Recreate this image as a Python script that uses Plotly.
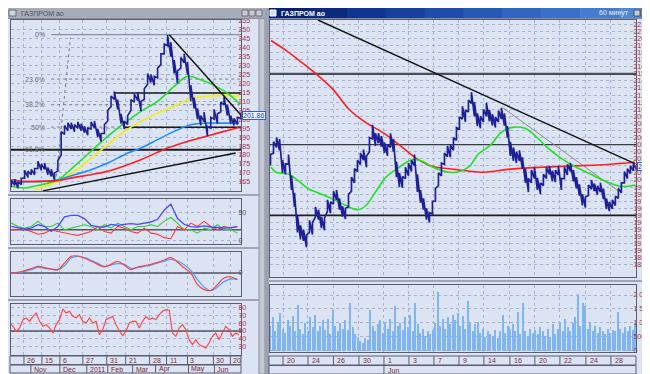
import plotly.graph_objects as go

W, H = 650, 374

# ================= LEFT WINDOW (daily bars, sample index k) =================
L_HIGH = [166, 166.5, 165, 167, 171.5, 171, 172, 172.5, 176.5, 175,
          175.5, 173, 172, 170, 177, 193, 196.5, 198, 198, 197,
          198.5, 197.5, 196, 195, 198.5, 199, 194.5, 192, 197, 205,
          213, 215.5, 211, 203, 199, 202, 211, 214, 215, 210,
          217, 225.5, 225, 224, 228.5, 236.5, 242, 247, 243, 233,
          227, 234.5, 236.5, 232, 219, 212, 206, 202, 204, 196,
          201, 205.5, 203, 209.5, 212.5, 208, 202, 200.5, 201, 203]
L_LOW = [162, 163, 161.5, 163.5, 167, 167.5, 169, 169, 172.5, 171.5,
         172, 169, 168, 166, 171, 180, 191.5, 193.5, 194.5, 193,
         195, 193.5, 192.5, 191, 194.5, 195, 190, 187.5, 192, 199,
         207, 211, 205.5, 197.5, 194.5, 197, 205, 209.5, 210.5, 204.5,
         211, 219.5, 220.5, 219, 223, 230.5, 236.5, 241, 235, 225.5,
         220, 228.5, 231.5, 225, 210, 206, 200, 196.5, 198.5, 190.5,
         195, 200, 197.5, 204, 208, 202, 197.5, 196.5, 197, 200.5]
L_LAST = "201.86"

L_GREEN_K = [0, 4, 9, 14, 19, 24, 29, 34, 39, 44, 49, 53, 57, 61, 65, 68.5]
L_GREEN = [162.5, 161.6, 163.4, 166.2, 173.8, 182.2, 190.4, 197.8, 204.4, 210,
           218.3, 223.9, 222, 218.9, 214.6, 209]
L_YELLOW_K = [7, 14, 19, 24, 29, 34, 39, 44, 49, 52, 55, 59, 64, 69]
L_YELLOW = [160.6, 165.3, 170.8, 178.3, 185.7, 193.2, 198.8, 203.4, 207.2, 210,
            211.8, 212.8, 213.3, 212.8]
L_BLUE_K = [0, 4, 9, 14, 19, 24, 29, 34, 39, 44, 49, 54, 59, 64, 68.5]
L_BLUE = [164.4, 165, 165.3, 166.2, 169, 171.8, 175.5, 180.2, 183.9, 188.6,
          193.2, 196.9, 197.8, 197.8, 197.8]
L_RED_K = [0, 4, 9, 14, 19, 24, 29, 39, 47, 53, 59, 64, 68.5]
L_RED = [166.2, 165.3, 165.3, 165.7, 167.5, 169, 170.9, 177.4, 183.9, 187.6,
         190.6, 193.2, 195.4]

L_DOWN_K = [47.5, 69]
L_DOWN = [247.2, 202.5]
L_SUPPORT_K = [9.5, 67.5]
L_SUPPORT = [160.0, 181.1]
L_BOX_TOP_K = [31, 69]
L_BOX_TOP = 214.6
L_BOX_BOT_K = [34, 69]
L_BOX_BOT = 195.5
L_LEVEL = 183.0

FIB_LEVELS = [247.2, 222.4, 208.1, 195.6, 183.0]
FIB_LABELS = ["0%", "23.6%", "38.2%", "50%", "61.8%"]
FIB_START_K = 12
FIB_BASE_K = [13.5, 17.8]
FIB_BASE = [168, 245.5]

# indicator panels, sampled every 2 k
L_ADX = [26, 23, 21, 23, 29, 26, 17, 26, 43, 45.8, 45.8, 39.9, 28, 25.6, 25, 29.8, 28, 29.8,
         31, 29.8, 31.5, 33.9, 38.7, 55, 66, 40, 29.8, 25.6, 25, 26.8, 25, 23.8, 23.2, 23.8, 25.6]
L_PDI = [32, 26, 23, 26, 35, 26, 26, 32, 20, 23, 26, 29, 26, 20, 29, 23, 32, 26,
         20, 26, 26, 29, 26, 35, 42, 32, 20, 20, 14, 23, 20, 29, 20, 21, 14]
L_MDI = [20, 20, 20, 17, 12, 14, 20, 17, 14, 12, 10, 13, 17, 26, 17, 14, 26, 23,
         17, 14, 23, 14, 12, 6, 4, 26, 20, 32, 26, 35, 26, 20, 26, 23, 26]
L_MACD = [0, 0.2, 0.7, 1.3, 2, 1.6, 1.2, 1, 3, 5, 5.1, 4.5, 3.5, 2.6, 1.8, 2.6, 3.5, 2.3,
          1, 1.8, 2.2, 2.6, 3.2, 3.9, 4.6, 3.3, 1.5, 0, -3.5, -5, -5.2, -3.5, -1.5, -1.2, -2]
L_SIGNAL = [0, 0.1, 0.5, 1, 1.7, 1.4, 1.1, 1, 2.2, 4.5, 5, 4.6, 3.8, 2.9, 2, 2.4, 2.8, 2.6,
            1.4, 1.6, 2, 2.4, 3, 3.5, 4.1, 3.6, 2.5, 0.8, -2, -4.2, -5.3, -4.2, -2.6, -1.8, -1.8]
L_RSI = [60.4, 56.1, 49.6, 53.9, 64.8, 67, 62.6, 69.1, 73.5, 62.6,
         56.1, 58.3, 53.9, 47.4, 58.3, 64.8, 78.7, 73.5, 75.7, 69.1,
         67, 71.3, 62.6, 60.4, 67, 60.4, 62.6, 45.2, 51.7, 64.8,
         67, 69.1, 58.3, 49.6, 43.9, 49.6, 60.4, 62.6, 62.6, 53.9,
         62.6, 69.1, 64.8, 67, 64.8, 71.3, 75.7, 77.8, 77, 47.4,
         43, 53.9, 58.3, 51.7, 38.7, 32.2, 38.7, 32.2, 30, 27.8,
         34.3, 43, 47.4, 38.7, 47.4, 56.1, 51.7, 43, 47.4, 45.2]

L_DAY_SEP = [3.8, 9.2, 14.6, 21.5, 28.7, 34.4, 41.6, 46.7, 53, 60.8, 65.9]
L_DAY_LBL = ["26", "15", "6", "27", "31", "21", "28", "11", "3", "30", "20"]
L_MON_SEP = [5.9, 14.6, 22.7, 29, 36.5, 43.4, 53.3, 61.1]
L_MON_LBL = ["Nov", "Dec", "2011", "Feb", "Mar", "Apr", "May", "Jun"]

# ================= RIGHT WINDOW (hourly, x in trading days) =================
R_STEP = 0.24
R_HIGH = [203.6, 205.4, 206.0, 205.8, 202.8, 202.3, 203.6, 200.6, 198.2, 195.0,
          193.6, 193.0, 192.2, 194.3, 194.0, 196.2, 195.8, 194.8, 194.6, 197.2,
          196.9, 198.4, 198.6, 197.4, 196.3, 196.0, 198.0, 200.4, 201.6, 202.8,
          203.8, 204.3, 203.4, 206.0, 207.8, 206.6, 206.6, 206.2, 205.3, 205.0,
          206.6, 205.8, 202.6, 201.0, 200.5, 201.8, 202.4, 202.8, 203.6, 200.8,
          198.6, 197.4, 196.0, 195.4, 197.0, 198.8, 201.0, 202.4, 203.8, 204.8,
          204.9, 206.0, 207.4, 208.9, 210.4, 209.9, 211.3, 212.4, 211.0, 209.4,
          209.0, 210.0, 210.9, 209.9, 209.3, 208.9, 209.8, 210.2, 209.4, 207.6,
          205.4, 204.6, 204.0, 204.2, 203.2, 201.6, 200.2, 201.4, 201.8, 200.3,
          199.6, 200.8, 201.8, 202.0, 201.3, 201.4, 202.0, 200.2, 201.8, 202.2,
          202.4, 201.4, 200.4, 199.4, 198.0, 197.6, 199.3, 200.0, 199.5, 199.2,
          199.6, 198.8, 197.4, 196.9, 197.2, 197.7, 198.8, 199.6, 201.2, 201.6,
          202.0, 202.3, 202.1]
R_LOW = [202.1, 203.8, 204.6, 204.2, 201.0, 200.8, 202.2, 198.6, 196.2, 192.6,
         191.6, 191.4, 190.5, 192.6, 192.3, 194.8, 194.4, 193.2, 192.9, 195.6,
         195.3, 196.6, 197.2, 195.8, 194.8, 194.5, 196.2, 198.4, 199.6, 201.2,
         202.2, 202.8, 201.8, 204.0, 205.8, 204.8, 205.2, 204.7, 203.8, 203.4,
         204.6, 204.0, 200.4, 199.0, 198.9, 200.2, 200.6, 201.2, 202.0, 198.3,
         196.8, 195.8, 194.4, 194.0, 195.2, 197.0, 199.2, 200.6, 202.2, 203.3,
         203.2, 204.2, 205.6, 207.2, 208.6, 208.2, 209.6, 210.8, 209.0, 207.6,
         207.3, 208.2, 209.0, 208.3, 207.7, 207.4, 208.2, 208.6, 207.7, 206.0,
         203.4, 202.7, 202.4, 202.7, 201.6, 199.6, 198.3, 199.6, 200.2, 198.6,
         198.0, 199.2, 200.2, 200.8, 199.8, 199.7, 200.7, 198.6, 200.2, 200.7,
         201.2, 199.8, 198.8, 197.8, 196.4, 196.1, 197.8, 198.7, 198.4, 197.9,
         198.3, 197.3, 195.9, 195.6, 195.9, 196.4, 197.4, 198.2, 199.6, 200.2,
         200.9, 201.3, 201.5]
R_LAST = "201.86"

R_RED_D = [0.04, 1.24, 2.28, 3.64, 5.0, 6.28, 7.64, 9.0, 10.28, 11.64, 13.0, 14.28,
           15.64, 17.16, 19.0, 21.64, 24.36, 27.0, 29.16]
R_RED = [219.7, 218.3, 216.9, 215, 212.8, 210, 208.1, 206.7, 205, 203.1, 201.9, 201.6,
         201.3, 201.1, 201.5, 201.8, 202.0, 202.2, 202.5]
R_GREEN_D = [0.04, 0.44, 1.48, 2.28, 3.08, 3.64, 5.0, 6.04, 7.0, 7.64, 8.44, 9.24, 10.28,
             11.4, 12.2, 13.0, 14.28, 15.16, 15.96, 16.6, 17.64, 18.44, 19.24, 20.36,
             21.4, 22.2, 23.24, 24.36, 25.64, 27.0, 28.04, 29.16]
R_GREEN = [201.8, 201.1, 200.8, 199.8, 198.7, 198.3, 197.3, 196.4, 195.8, 196.4, 198.4,
           200.4, 201.8, 202.9, 202.6, 201.8, 201.1, 201.2, 202.0, 203.6, 205.0, 206.7,
           207.4, 207.3, 205.9, 204.5, 203.1, 201.9, 200.8, 199.7, 199.1, 199.3]
R_TREND_D = [3.8, 29.16]
R_TREND = [222.6, 202.3]
R_THIN_D = [18.6, 28.04]
R_THIN = [210.2, 198.2]
R_LEVELS = [215, 205, 195]

R_VOL_STEP = 0.2
R_VOL = [900, 1200, 700, 1000, 1350, 800, 650, 1100, 900, 1250, 700, 1650,
         800, 600, 1000, 700, 1200, 850, 1300, 700, 900, 1100, 750, 1150,
         600, 1450, 900, 700, 1000, 800, 1100, 750, 1700, 850, 600, 500,
         350, 300, 450, 400, 1450, 900, 700, 950, 1100, 650, 1050, 800,
         1150, 700, 1600, 900, 1000, 750, 1200, 850, 1300, 700, 1700, 950,
         650, 800, 550, 700, 600, 750, 1000, 2100, 900, 1150, 800, 1200,
         950, 1300, 1100, 1350, 900, 1250, 800, 1800, 1000, 700, 950, 1050,
         650, 800, 500, 700, 600, 550, 750, 450, 700, 1300, 650, 900,
         800, 950, 700, 1400, 600, 1700, 700, 550, 800, 650, 750, 600,
         850, 700, 550, 800, 500, 950, 600, 800, 1000, 700, 1150, 850,
         700, 1000, 1200, 2050, 900, 1700, 1600, 800, 1000, 700, 900, 650,
         850, 700, 600, 800, 650, 750, 700, 1400, 800, 650, 850, 700,
         900, 750, 1000]
R_VOL_TICKS = [0, 500, 1000, 1500, 2000]
R_VOL_TEXT = ["0", "500 000", "1 000 000", "1 500 000", "2 000 000"]

R_DAY_SEP = [1.0, 3.0, 5.04, 7.08, 9.08, 11.08, 13.08, 15.08, 17.08, 19.16, 21.16, 23.16, 25.24, 27.24]
R_DAY_LBL = ["20", "24", "26", "30", "1", "3", "7", "9", "14", "16", "20", "22", "24", "28"]
R_MON_SEP = [9.08]
R_MON_LBL = ["Jun"]

# ================= styling =================
FONT = "Liberation Sans"
BG = "#dce3f3"
FRAME = "#5c5c70"
GRID = "#a6b3d6"
LBL = "#a8304e"
BAR = "#1f1f96"


def py(p):
    return 1 - p / H


def dom_y(top, bot):
    return [py(bot), py(top)]


LX = [3 / W, 233 / W]
RX = [262 / W, 628 / W]
LXR = [-0.1, 69.1]
RXR = [-0.04, 29.25]

fig = go.Figure()


def line(x, y, ax, ay, color, width, dash="solid", shape="linear"):
    fig.add_trace(go.Scatter(x=x, y=y, xaxis=ax, yaxis=ay, mode="lines",
                             line=dict(color=color, width=width, dash=dash, shape=shape),
                             hoverinfo="skip", showlegend=False))


def sawtooth(lows, highs, step):
    xs, ys = [], []
    for i, (lo, hi) in enumerate(zip(lows, highs)):
        xs += [i * step, i * step]
        ys += [lo, hi]
    return xs, ys


# ---- left main ----
for lv, lab in zip(FIB_LEVELS[1:4], FIB_LABELS[1:4]):
    line([FIB_START_K, LXR[1]], [lv, lv], "x", "y", "#7a7a88", 1, "dot")
line([FIB_START_K, LXR[1]], [FIB_LEVELS[0]] * 2, "x", "y", "#7a7a88", 1)
line(FIB_BASE_K, FIB_BASE, "x", "y", "#7a7a88", 1, "dot")
line([LXR[0], LXR[1]], [L_LEVEL, L_LEVEL], "x", "y", "#1a1a1a", 2)
line(L_BOX_TOP_K, [L_BOX_TOP] * 2, "x", "y", "#1a1a1a", 1.6)
line(L_BOX_BOT_K, [L_BOX_BOT] * 2, "x", "y", "#1a1a1a", 1.6)
line(L_YELLOW_K, L_YELLOW, "x", "y", "#f2f000", 1.6, shape="spline")
line(L_BLUE_K, L_BLUE, "x", "y", "#1e8cff", 1.6, shape="spline")
line(L_GREEN_K, L_GREEN, "x", "y", "#22e022", 1.6, shape="spline")
line(L_RED_K, L_RED, "x", "y", "#ff1e1e", 1.6, shape="spline")
lx, lyv = sawtooth(L_LOW, L_HIGH, 1)
line(lx, lyv, "x", "y", BAR, 1.6)
line(L_DOWN_K, L_DOWN, "x", "y", "#111111", 1.4)
line(L_SUPPORT_K, L_SUPPORT, "x", "y", "#111111", 1.4)

# ---- left indicators ----
KI = list(range(0, 69, 2))
line([LXR[0], LXR[1]], [20, 20], "x3", "y3", "#55556a", 1.5)
line(KI, L_PDI, "x3", "y3", "#2fd02f", 1.1)
line(KI, L_MDI, "x3", "y3", "#ff3a3a", 1.1)
line(KI, L_ADX, "x3", "y3", "#4a4aff", 1.3)
line([LXR[0], LXR[1]], [0, 0], "x4", "y4", "#55556a", 1.5)
line(KI, L_SIGNAL, "x4", "y4", "#46a8ff", 1.3, shape="spline")
line(KI, L_MACD, "x4", "y4", "#ff4040", 1.2, shape="spline")
line([LXR[0], LXR[1]], [50, 50], "x5", "y5", "#55556a", 1.5)
line([i - 0.5 for i in range(len(L_RSI))], L_RSI, "x5", "y5", "#ff4040", 1.1)

# ---- right main ----
for lv, w, c in zip(R_LEVELS, [2.2, 1.2, 1.6], ["#4c4c5a", "#3a3a44", "#1e1e1e"]):
    line([RXR[0], RXR[1]], [lv, lv], "x2", "y2", c, w)
line(R_THIN_D, R_THIN, "x2", "y2", "#8a8a90", 1)
line(R_RED_D, R_RED, "x2", "y2", "#ff1e1e", 1.6, shape="spline")
line(R_GREEN_D, R_GREEN, "x2", "y2", "#22e022", 1.6, shape="spline")
rx, ryv = sawtooth(R_LOW, R_HIGH, R_STEP)
line(rx, ryv, "x2", "y2", BAR, 1.7)
line(R_TREND_D, R_TREND, "x2", "y2", "#111111", 1.4)

# ---- volume ----
fig.add_trace(go.Bar(x=[i * R_VOL_STEP for i in range(len(R_VOL))], y=R_VOL,
                     width=R_VOL_STEP * 0.55, marker=dict(color="#7fb6f2", line=dict(width=0)),
                     xaxis="x6", yaxis="y6", hoverinfo="skip", showlegend=False))

# ---- axes ----
def xax(domain, rng, anchor, seps, match=None):
    d = dict(domain=domain, range=rng, anchor=anchor, tickvals=seps, showticklabels=False,
             showgrid=True, gridcolor=GRID, griddash="dot", gridwidth=1, zeroline=False,
             showline=True, mirror=True, linecolor=FRAME, linewidth=1, ticks="",
             fixedrange=True, automargin=False)
    if match:
        d["matches"] = match
    return d


def yax(domain, rng, anchor, tickvals, ticktext=None, color=LBL):
    d = dict(domain=domain, range=rng, anchor=anchor, side="right", tickvals=tickvals,
             showgrid=True, gridcolor=GRID, griddash="dot", gridwidth=1, zeroline=False,
             showline=True, mirror=True, linecolor=FRAME, linewidth=1, ticks="", ticklen=0,
             ticklabelstandoff=-5,
             tickfont=dict(family=FONT, size=7, color=color), fixedrange=True, automargin=False)
    if ticktext is not None:
        d["ticktext"] = ticktext
    return d


layout_axes = dict(
    xaxis=xax(LX, LXR, "y", L_DAY_SEP),
    yaxis=yax(dom_y(12, 183), [159.9, 255.4], "x", list(range(165, 256, 5))),
    xaxis3=xax(LX, LXR, "y3", L_DAY_SEP, "x"),
    yaxis3=yax(dom_y(191, 236), [-5.4, 75], "x3", [0, 50], color="#505060"),
    xaxis4=xax(LX, LXR, "y4", L_DAY_SEP, "x"),
    yaxis4=yax(dom_y(244, 288), [-6.9, 6.3], "x4", [0], color="#505060"),
    xaxis5=xax(LX, LXR, "y5", L_DAY_SEP, "x"),
    yaxis5=yax(dom_y(296, 347), [18.7, 85.2], "x5", [30, 40, 50, 60, 70, 80]),
    xaxis2=xax(RX, RXR, "y2", R_DAY_SEP),
    yaxis2=yax(dom_y(12, 269), [186.3, 222.6], "x2", list(range(188, 223))),
    xaxis6=xax(RX, RXR, "y6", R_DAY_SEP, "x2"),
    yaxis6=yax(dom_y(277, 344), [-36, 2357], "x6", R_VOL_TICKS, R_VOL_TEXT),
)

shapes = []
ann = []


def prect(x0, y0, x1, y1, fill, line_c=None, lw=0):
    shapes.append(dict(type="rect", xref="paper", yref="paper", x0=x0 / W, x1=x1 / W,
                       y0=py(y1), y1=py(y0), fillcolor=fill,
                       line=dict(color=line_c or fill, width=lw), layer="above"))


def pline(x0, y0, x1, y1, color, w=1):
    shapes.append(dict(type="line", xref="paper", yref="paper", x0=x0 / W, x1=x1 / W,
                       y0=py(y0), y1=py(y1), line=dict(color=color, width=w), layer="above"))


# window chrome
prect(251, 10, 257, 366, "#c4c8d4", "#8a8e9c", 1)
prect(257, 0, 261, 374, "#9ca2b2")
prect(648, 10, 650, 374, "#9ca2b2")
prect(0, 366, 650, 374, "#b2b6c4")
prect(0, 0, 257, 10, "#a7acb9")
prect(1, 2, 8, 8, "#d0d4dc", "#6a6a7a", 1)
for bx in (234, 241, 248):
    prect(bx, 2, bx + 6, 8, "#c8ccd6", "#70707c", 1)
grad = ["#08206e", "#0b2a7e", "#10358e", "#16409c", "#1e4caa", "#2858b6",
        "#3264c0", "#3c70c8", "#467ccf", "#5088d4"]
seg = (650 - 261) / len(grad)
for i, c in enumerate(grad):
    prect(261 + i * seg, 0, 261 + (i + 1) * seg + 0.5, 10, c)
prect(262, 2, 268, 8, "#d8dce6", "#ffffff", 1)
for bx in (626, 633, 641):
    prect(bx, 2, bx + 6, 8, "#c8ccd6", "#50505c", 1)
pline(0, 10.5, 257, 10.5, "#8a8e9c")
pline(261, 10.5, 650, 10.5, "#8a8e9c")
# panel splitters
for yy in (187, 240, 292):
    pline(0, yy, 251, yy, "#8c90a0", 1.5)
pline(261, 273, 648, 273, "#8c90a0", 1.5)

# left date strip
prect(2, 348, 233, 356.5, "rgba(0,0,0,0)", FRAME, 1)
prect(2, 357, 233, 365, "rgba(0,0,0,0)", FRAME, 1)
for s, t in zip(L_DAY_SEP, L_DAY_LBL):
    shapes.append(dict(type="line", xref="x", yref="paper", x0=s, x1=s, y0=py(356.5), y1=py(348),
                       line=dict(color=FRAME, width=1), layer="above"))
    ann.append(dict(x=s, xref="x", y=py(352.3), yref="paper", text=t, showarrow=False,
                    xanchor="left", yanchor="middle", xshift=1,
                    font=dict(family=FONT, size=7, color="#7a2a3a")))
for s, t in zip(L_MON_SEP, L_MON_LBL):
    shapes.append(dict(type="line", xref="x", yref="paper", x0=s, x1=s, y0=py(365), y1=py(357),
                       line=dict(color=FRAME, width=1), layer="above"))
    ann.append(dict(x=s, xref="x", y=py(361), yref="paper", text=t, showarrow=False,
                    xanchor="left", yanchor="middle", xshift=1,
                    font=dict(family=FONT, size=7, color="#7a2a3a")))

# right date strip
prect(261, 348, 628, 357, "rgba(0,0,0,0)", FRAME, 1)
prect(261, 357.5, 628, 366, "rgba(0,0,0,0)", FRAME, 1)
for s, t in zip(R_DAY_SEP, R_DAY_LBL):
    shapes.append(dict(type="line", xref="x2", yref="paper", x0=s, x1=s, y0=py(357), y1=py(348),
                       line=dict(color=FRAME, width=1), layer="above"))
    ann.append(dict(x=s, xref="x2", y=py(352.5), yref="paper", text=t, showarrow=False,
                    xanchor="left", yanchor="middle", xshift=2,
                    font=dict(family=FONT, size=7, color="#7a2a3a")))
for s, t in zip(R_MON_SEP, R_MON_LBL):
    shapes.append(dict(type="line", xref="x2", yref="paper", x0=s, x1=s, y0=py(366), y1=py(357.5),
                       line=dict(color=FRAME, width=1), layer="above"))
    ann.append(dict(x=s, xref="x2", y=py(362), yref="paper", text=t, showarrow=False,
                    xanchor="left", yanchor="middle", xshift=2,
                    font=dict(family=FONT, size=7, color="#7a2a3a")))

# fib labels
for lv, t in zip(FIB_LEVELS, FIB_LABELS):
    ann.append(dict(x=FIB_START_K - 1.2, xref="x", y=lv, yref="y", text=t, showarrow=False,
                    xanchor="right", yanchor="middle",
                    font=dict(family=FONT, size=7, color="#6a6a78")))

# last price tags
ann.append(dict(x=1, xref="x domain", y=201.86, yref="y", text=L_LAST, showarrow=False,
                xanchor="left", yanchor="middle", xshift=1, bgcolor="#eef3ff",
                bordercolor="#3060c8", borderwidth=1, borderpad=0,
                font=dict(family=FONT, size=7, color="#2040c0")))
ann.append(dict(x=1, xref="x2 domain", y=201.86, yref="y2", text=R_LAST, showarrow=False,
                xanchor="left", yanchor="middle", xshift=1, bgcolor="#eef3ff",
                bordercolor="#3060c8", borderwidth=1, borderpad=0,
                font=dict(family=FONT, size=7, color="#2040c0")))

# titles
ann.append(dict(x=11 / W, xref="paper", y=py(5), yref="paper", text="ГАЗПРОМ ао",
                showarrow=False, xanchor="left", yanchor="middle",
                font=dict(family=FONT, size=7, color="#50525e")))
ann.append(dict(x=271 / W, xref="paper", y=py(5), yref="paper", text="<b>ГАЗПРОМ ао</b>",
                showarrow=False, xanchor="left", yanchor="middle",
                font=dict(family=FONT, size=7, color="#ffffff")))
ann.append(dict(x=623 / W, xref="paper", y=py(5), yref="paper", text="60 минут",
                showarrow=False, xanchor="right", yanchor="middle",
                font=dict(family=FONT, size=7, color="#e8f0ff")))

fig.update_layout(
    width=W, height=H, margin=dict(l=0, r=0, t=0, b=0),
    paper_bgcolor=BG, plot_bgcolor="rgba(0,0,0,0)",
    template="none", showlegend=False, bargap=0,
    shapes=shapes, annotations=ann,
    font=dict(family=FONT, size=7),
    **layout_axes,
)

fig.write_html("out.html")
